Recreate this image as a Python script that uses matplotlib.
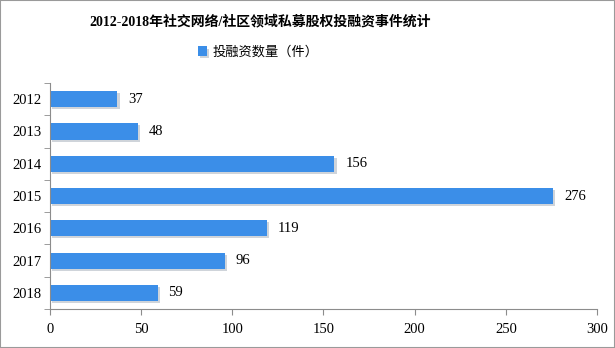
import matplotlib.pyplot as plt
import matplotlib.patheffects as pe
from matplotlib.patches import Rectangle

years = ['2012', '2013', '2014', '2015', '2016', '2017', '2018']
counts = [37, 48, 156, 276, 119, 96, 59]
series_name = '投融资数量（件）'
title = '2012-2018年社交网络/社区领域私募股权投融资事件统计'

plt.rcParams['font.family'] = ['Liberation Serif', 'Noto Sans CJK SC']

bar_color = '#3b8ee8'
axis_color = '#8c8c8c'

fig = plt.figure(figsize=(6.15, 3.48), dpi=100)
ax = fig.add_axes([0.0813, 0.112, 0.8894, 0.6494])

pos = list(range(len(years)))
bars = ax.barh(pos, counts, height=0.5, color=bar_color, label=series_name,
               path_effects=[pe.SimplePatchShadow(offset=(1.5, -1.5), alpha=0.2), pe.Normal()])
ax.set_ylim(len(years) - 0.5, -0.5)
ax.set_xlim(0, 300)
ax.set_xticks(range(0, 301, 50))
ax.set_yticks(pos)
ax.set_yticklabels(years)

# category boundary ticks on the y axis
ax.set_yticks([p - 0.5 for p in pos] + [len(years) - 0.5], minor=True)
ax.tick_params(axis='y', which='major', length=0, pad=6, labelsize=10.5)
ax.tick_params(axis='y', which='minor', length=4, color=axis_color)
ax.tick_params(axis='x', length=4, color=axis_color, labelsize=10.5, pad=6)

for s in ['top', 'right']:
    ax.spines[s].set_visible(False)
for s in ['left', 'bottom']:
    ax.spines[s].set_color(axis_color)

for p, v in zip(pos, counts):
    ax.text(v + 6, p, str(v), va='center', ha='left', fontsize=10.5)

fig.text(0.423, 0.937, title, ha='center', va='center', fontsize=10, fontweight='bold')
fig.legend(handles=[bars], labels=[series_name], loc='center', bbox_to_anchor=(0.42, 0.85),
           frameon=False, handlelength=0.7, handleheight=0.7, handletextpad=0.4,
           prop={'family': ['Noto Sans CJK SC'], 'size': 9.5})

fig.patches.append(Rectangle((0, 0), 1, 1, transform=fig.transFigure, fill=False,
                             edgecolor='#9a9a9a', linewidth=1.5))

fig.savefig('out.png', dpi=100)
